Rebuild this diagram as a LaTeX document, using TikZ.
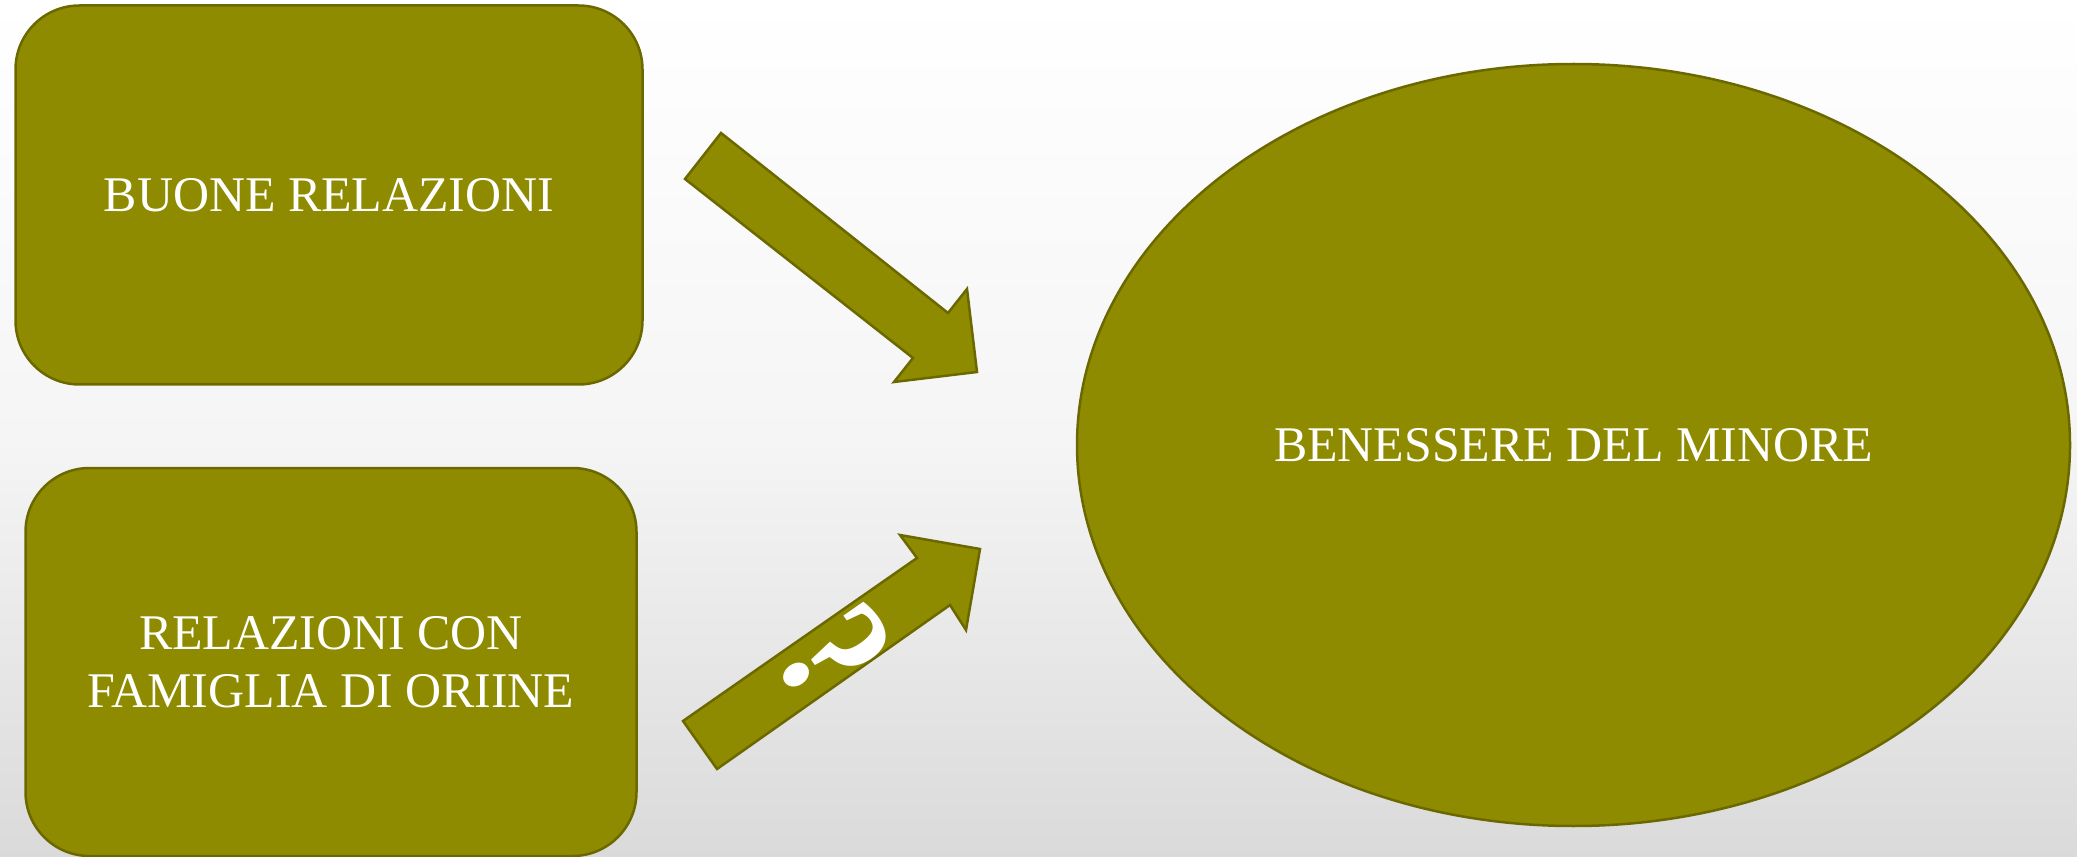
\documentclass[tikz,border=0pt]{standalone}
\usepackage{fontspec}
\setmainfont{Liberation Serif}
\usetikzlibrary{shapes.geometric}
\definecolor{boxolive}{RGB}{142,139,0}
\definecolor{edgeolive}{RGB}{107,104,0}
\definecolor{bgtop}{RGB}{255,255,255}
\definecolor{bgmid}{RGB}{245,245,245}
\definecolor{bgbottom}{RGB}{218,218,218}

\begin{document}
\begin{tikzpicture}[x=0.1mm,y=-0.1mm,
  olive/.style={fill=boxolive,draw=edgeolive,line width=0.25mm,line join=miter},
  labeltext/.style={text=white,font=\fontsize{14.2pt}{16.4pt}\selectfont,align=center,inner sep=0pt}]
  % Page area ~2077x857 px
  \useasboundingbox (0,0) rectangle (2077,857);
  \clip (0,0) rectangle (2077,857);

  % --- Background: white on top, light gray at the bottom ---
  \shade[top color=bgtop,bottom color=bgmid] (0,0) rectangle (2077,440);
  \shade[top color=bgmid,bottom color=bgbottom] (0,440) rectangle (2077,857);

  % --- Cause boxes (left) ---
  \node[olive,labeltext,rounded corners=6.4mm,minimum width=62.7mm,minimum height=37.9mm]
    (buone) at (329,195) {BUONE RELAZIONI};
  \node[olive,labeltext,rounded corners=6.4mm,minimum width=61.1mm,minimum height=38.8mm]
    (famiglia) at (331,662) {RELAZIONI CON\\FAMIGLIA DI ORIINE};

  % --- Effect (right) ---
  \node[olive,labeltext,ellipse,minimum width=99.3mm,minimum height=76.2mm]
    (benessere) at (1573.5,445) {BENESSERE DEL MINORE};

  % Block arrow, upper: pointing down-right
  \draw[olive] (721,133) -- (948,313) -- (967,289) -- (977,372)
    -- (894,382) -- (913,358) -- (685,179) -- cycle;

  % Block arrow, lower: pointing up-right, with the question mark
  \draw[olive] (683,721) -- (917,558) -- (900,535) -- (980,549)
    -- (966,630) -- (950,605) -- (717,769) -- cycle;
  \node[text=white,font=\fontsize{48pt}{48pt}\selectfont\bfseries,rotate=-55,inner sep=0pt]
    (dubbio) at (835,654) {\scalebox{0.8}[1]{?}};

\end{tikzpicture}
\end{document}
